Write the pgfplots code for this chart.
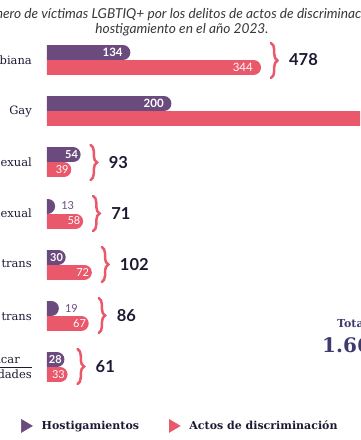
\documentclass[border=0pt]{standalone}
\usepackage{pgfplots}
\pgfplotsset{compat=1.18}
\usepackage{pgfplotstable}
\usepackage{fontspec}
\setmainfont{Lato}
\newfontfamily\slab{DejaVu Serif}
\usetikzlibrary{decorations.pathreplacing}
\definecolor{hpurple}{RGB}{107,74,126}
\definecolor{dpink}{RGB}{234,88,108}
\definecolor{navy}{RGB}{28,26,51}
\definecolor{totblue}{RGB}{62,58,110}
\definecolor{titlegray}{RGB}{55,55,60}

% bar centre (px from top) and value
\pgfplotstableread{
y val
52.5 134
103.7 200
154.8 54
206.0 13
257.2 30
308.3 19
359.5 28
}\hostig
\pgfplotstableread{
y val
67.5 344
118.7 570
169.8 39
221.0 58
272.2 72
323.3 67
374.5 33
}\discrim
\pgfplotstableread{
y max total
60.0 344 478
111.2 570 770
162.3 54 93
213.5 58 71
264.7 72 102
315.8 67 86
367.0 33 61
}\totals

\begin{document}
\begin{tikzpicture}
\path[use as bounding box] (0pt,0pt) rectangle (360pt,440pt);
\clip (0pt,0pt) rectangle (360pt,440pt);
\begin{axis}[
  at={(47pt,0pt)}, anchor=south west,
  scale only axis, width=313pt, height=440pt,
  xmin=0, xmax=503.2, ymin=0, ymax=440, y dir=reverse,
  /pgf/number format/assume math mode=true,
  axis line style={draw=none}, xtick=\empty,
  ytick={60,111.2,162.3,213.5,264.7,315.8,367},
  yticklabels={Lesbiana, Gay, Bisexual, Pansexual, Mujer trans, Hombre trans, {\underline{No especificar\hspace{12pt}}\\identidades}},
  yticklabel style={font=\slab\fontsize{11.5}{15}\selectfont, text=navy, align=right, anchor=east, inner sep=0pt, xshift=-15pt},
  major tick length=0pt,
  legend style={at={(axis description cs:-0.083,0.032)}, anchor=west, draw=none, fill=none,
    font=\slab\bfseries\fontsize{11}{12}\selectfont, text=navy, inner sep=0pt,
    /tikz/column 1/.style={column sep=7pt},
    /tikz/column 2/.style={column sep=28pt},
    /tikz/column 3/.style={column sep=7pt}},
  legend columns=2, legend cell align=left,
]
\addlegendimage{legend image code/.code={\fill[hpurple] (0pt,-6.5pt) -- (11pt,0pt) -- (0pt,6.5pt) -- cycle;}}
\addlegendentry{Hostigamientos}
\addlegendimage{legend image code/.code={\fill[dpink] (0pt,-6.5pt) -- (11pt,0pt) -- (0pt,6.5pt) -- cycle;}}
\addlegendentry{Actos de discriminación}

% bars (round-capped)
\addplot[forget plot, hpurple, line width=15pt, line cap=round, quiver={u=\thisrow{val}-12, v=0}]
  table[x expr=0, y=y] {\hostig};
\addplot[forget plot, dpink, line width=15pt, line cap=round, quiver={u=\thisrow{val}-12, v=0}]
  table[x expr=0, y=y] {\discrim};

% value labels: long bars
\addplot[forget plot, only marks, mark=none, restrict x to domain=100:1000,
  nodes near coords, point meta=explicit,
  nodes near coords style={anchor=east, xshift=-7.5pt, text=white, font=\bfseries\fontsize{11.5}{12}\selectfont, inner sep=0pt}]
  table[x=val, y=y, meta=val] {\hostig};
\addplot[forget plot, only marks, mark=none, restrict x to domain=100:1000,
  nodes near coords, point meta=explicit,
  nodes near coords style={anchor=east, xshift=-8pt, text=white, font=\fontsize{11.5}{12}\selectfont, inner sep=0pt}]
  table[x=val, y=y, meta=val] {\discrim};
% value labels: short bars
\addplot[forget plot, only marks, mark=none, restrict x to domain=20:100,
  nodes near coords, point meta=explicit,
  nodes near coords style={anchor=east, xshift=-2.5pt, text=white, font=\bfseries\fontsize{11}{12}\selectfont, inner sep=0pt}]
  table[x=val, y=y, meta=val] {\hostig};
\addplot[forget plot, only marks, mark=none, restrict x to domain=20:100,
  nodes near coords, point meta=explicit,
  nodes near coords style={anchor=east, xshift=-2.5pt, text=white, font=\fontsize{11}{12}\selectfont, inner sep=0pt}]
  table[x=val, y=y, meta=val] {\discrim};
% value labels: bars too short to hold a label
\addplot[forget plot, only marks, mark=none, restrict x to domain=0:20,
  nodes near coords, point meta=explicit,
  nodes near coords style={anchor=west, xshift=6pt, text=hpurple, font=\fontsize{11}{12}\selectfont, inner sep=0pt}]
  table[x=val, y=y, meta=val] {\hostig};

% totals
\addplot[forget plot, only marks, mark=none,
  nodes near coords, point meta=explicit,
  nodes near coords style={anchor=west, xshift=28pt, text=navy, font=\bfseries\fontsize{16.5}{18}\selectfont, inner sep=0pt}]
  table[x=max, y=y, meta=total] {\totals};

% braces
\tikzset{br/.style={dpink, line width=2.5pt, line cap=round, decorate, decoration={brace, amplitude=6.5pt}}}
\draw[br] ([xshift=10pt]axis cs:344,43) -- ([xshift=10pt]axis cs:344,78);
\draw[br] ([xshift=10pt]axis cs:570,94) -- ([xshift=10pt]axis cs:570,129);
\draw[br] ([xshift=10pt]axis cs:54,145) -- ([xshift=10pt]axis cs:54,180);
\draw[br] ([xshift=10pt]axis cs:58,196) -- ([xshift=10pt]axis cs:58,231);
\draw[br] ([xshift=10pt]axis cs:72,247) -- ([xshift=10pt]axis cs:72,282);
\draw[br] ([xshift=10pt]axis cs:67,298) -- ([xshift=10pt]axis cs:67,333);
\draw[br] ([xshift=10pt]axis cs:33,349) -- ([xshift=10pt]axis cs:33,384);
\end{axis}

% title
\node[font=\itshape\fontsize{13.7}{15}\selectfont, text=titlegray] at (182pt,425pt)
  {Número de víctimas LGBTIQ+ por los delitos de actos de discriminación y};
\node[font=\itshape\fontsize{13.7}{15}\selectfont, text=titlegray] at (182pt,410pt)
  {hostigamiento en el año 2023.};

% total block
\node[anchor=west, font=\slab\bfseries\fontsize{11}{12}\selectfont, text=totblue, inner sep=0pt] at (337pt,117pt) {Total};
\node[anchor=west, font=\slab\bfseries\fontsize{20}{24}\selectfont, text=totblue, inner sep=0pt] at (322pt,95pt) {1.661};
\end{tikzpicture}
\end{document}
